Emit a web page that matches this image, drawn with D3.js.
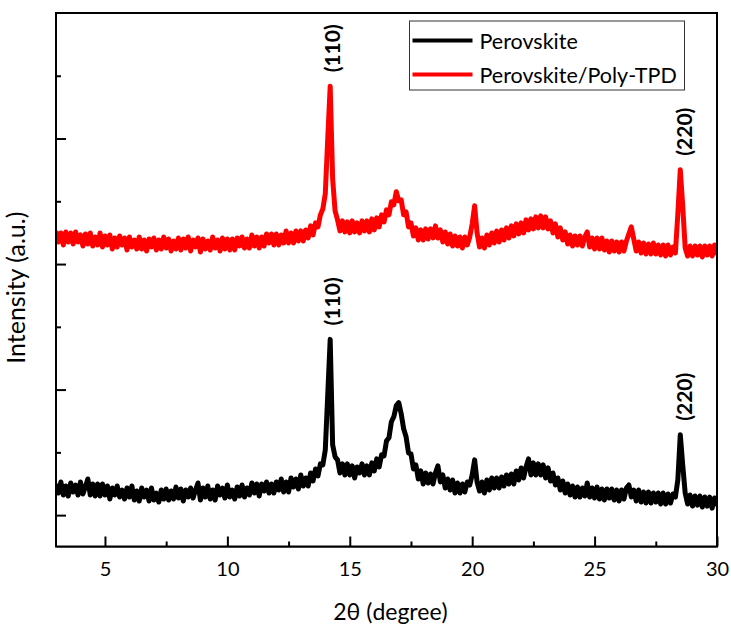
<!DOCTYPE html>
<html>
<head>
<meta charset="utf-8">
<script src="https://cdn.jsdelivr.net/npm/d3@7"></script>
<style>
  body { margin: 0; background: #fff; }
  svg { display: block; font-family: Lato, "Noto Sans", sans-serif; }
</style>
</head>
<body>
<div id="chart"></div>
<script>
// 2-theta sampling grid, 3.0 .. 30.0 in 0.1 degree steps
var twoTheta = d3.range(271).map(i => +(3 + i * 0.1).toFixed(1));

// Perovskite (black) intensity, a.u.
var perovskite = [
  248,176,264,160,232,152,256,184,240,160,
  264,168,224,288,160,248,152,248,152,248,
  160,232,128,216,160,232,144,200,128,216,
  144,232,120,192,112,216,144,200,112,216,
  120,176,104,200,128,208,120,192,128,224,
  136,208,112,200,144,216,136,200,256,120,
  216,144,232,128,200,120,232,160,216,136,
  240,144,200,128,224,152,240,144,216,160,
  256,176,248,152,248,192,264,176,248,176,
  264,200,288,184,264,184,296,224,288,208,
  320,232,296,232,336,272,368,312,408,400,
  520,960,1400,560,464,440,336,408,320,408,
  320,392,296,384,336,408,320,392,320,416,
  352,448,384,480,472,592,616,744,784,872,
  896,808,688,624,496,488,368,400,288,352,
  248,336,256,328,248,336,392,264,320,216,
  288,200,280,176,256,176,248,184,264,240,
  320,440,264,192,264,176,280,200,296,216,
  296,216,304,232,320,248,328,248,352,280,
  376,296,384,448,320,416,320,408,320,400,
  296,376,272,336,240,296,200,272,176,248,
  160,232,144,224,144,216,152,256,144,216,
  136,224,128,208,120,208,136,208,120,200,
  112,200,128,216,240,144,200,112,200,104,
  184,96,184,96,176,104,176,88,176,88,
  168,96,168,144,280,640,400,176,88,160,
  72,152,80,152,64,144,72,144,56,136,
  72
];

// Perovskite/Poly-TPD (red) intensity, a.u. (offset trace)
var polyTPD = [
  2264,2176,2248,2152,2256,2176,2248,2160,2256,2176,
  2232,2144,2240,2160,2248,2144,2216,2152,2248,2136,
  2224,2152,2232,2120,2208,2136,2224,2152,2208,2112,
  2216,2136,2192,2120,2216,2120,2192,2104,2200,2136,
  2208,2112,2192,2120,2216,2128,2200,2104,2184,2120,
  2208,2112,2200,2128,2216,2104,2192,2136,2208,2096,
  2200,2120,2184,2112,2216,2128,2192,2104,2208,2120,
  2200,2112,2200,2112,2208,2144,2216,2128,2200,2128,
  2232,2144,2216,2128,2216,2144,2240,2168,2240,2152,
  2240,2152,2232,2168,2264,2168,2248,2168,2264,2184,
  2264,2184,2272,2208,2304,2232,2328,2296,2392,2440,
  2560,3000,3416,2680,2424,2352,2264,2344,2256,2336,
  2248,2344,2256,2328,2248,2344,2264,2344,2256,2360,
  2272,2368,2296,2392,2336,2432,2392,2496,2472,2576,
  2504,2512,2392,2416,2296,2328,2224,2288,2192,2272,
  2192,2280,2200,2280,2208,2304,2208,2272,2176,2256,
  2160,2240,2144,2224,2144,2216,2128,2216,2152,2216,
  2320,2464,2248,2136,2208,2128,2232,2152,2248,2168,
  2264,2176,2272,2192,2288,2208,2304,2224,2320,2240,
  2328,2248,2352,2272,2360,2280,2376,2288,2384,2288,
  2376,2280,2344,2248,2320,2216,2288,2192,2256,2160,
  2232,2144,2224,2152,2224,2144,2216,2256,2136,2208,
  2120,2208,2120,2208,2112,2184,2096,2184,2104,2176,
  2096,2176,2104,2184,2240,2296,2200,2104,2176,2088,
  2168,2080,2160,2080,2168,2080,2152,2072,2152,2064,
  2152,2072,2136,2088,2400,2752,2464,2128,2064,2144,
  2064,2144,2072,2144,2056,2144,2072,2144,2064,2152,
  2072
];

var seriesNames = ["Perovskite", "Perovskite/Poly-TPD"];
var seriesColors = ["#000000", "#ff0000"];
var peakLabels = ["(110)", "(220)"];
var peakAngles = [14.17, 28.54];
var xTicks = [5, 10, 15, 20, 25, 30];
var xMinorTicks = [7.5, 12.5, 17.5, 22.5, 27.5];
var yTicks = [0, 1000, 2000, 3000];
var yMinorTicks = [500, 1500, 2500, 3500];

var svgWidth = 731;
var svgHeight = 629;

var margin = {
  top: 13,
  right: 14,
  bottom: 82.5,
  left: 56
};

var width = svgWidth - margin.left - margin.right;
var height = svgHeight - margin.top - margin.bottom;

var svg = d3
  .select("#chart")
  .append("svg")
  .attr("width", svgWidth)
  .attr("height", svgHeight);

var chartGroup = svg.append("g")
  .attr("transform", `translate(${margin.left}, ${margin.top})`);

var xScale = d3.scaleLinear().domain([3, 30]).range([0, width]);
var yScale = d3.scaleLinear().domain([-250, 4000]).range([height, 0]);

// clip so the traces stay inside the frame
chartGroup.append("clipPath").attr("id", "plotClip")
  .append("rect").attr("width", width).attr("height", height);

var allSeries = [perovskite, polyTPD];

var line = d3.line()
  .x(d => xScale(d[0]))
  .y(d => yScale(d[1]));

allSeries.forEach(function(values, s) {
  chartGroup.append("path")
    .datum(twoTheta.map((t, i) => [t, values[i]]))
    .attr("clip-path", "url(#plotClip)")
    .attr("fill", "none")
    .attr("stroke", seriesColors[s])
    .attr("stroke-width", 5)
    .attr("stroke-linejoin", "round")
    .attr("d", line);
});

// peak labels, rotated, just above each peak apex
allSeries.forEach(function(values, s) {
  peakAngles.forEach(function(angle, p) {
    var apex = d3.max(twoTheta.map((t, i) => Math.abs(t - angle) < 0.25 ? values[i] : -Infinity));
    var tx = xScale(angle) + 2;
    var ty = yScale(apex) - 38;
    chartGroup.append("text")
      .attr("transform", `translate(${tx}, ${ty}) rotate(-90)`)
      .attr("text-anchor", "middle")
      .attr("dominant-baseline", "central")
      .style("font-weight", "bold")
      .style("font-size", "21px")
      .text(peakLabels[p]);
  });
});

// x axis with inward ticks
var xAxis = chartGroup.append("g")
  .attr("transform", `translate(0, ${height})`)
  .call(d3.axisBottom(xScale).tickValues(xTicks).tickSizeInner(-10).tickSizeOuter(0).tickPadding(15));

chartGroup.append("g")
  .attr("transform", `translate(0, ${height})`)
  .call(d3.axisBottom(xScale).tickValues(xMinorTicks).tickSizeInner(-5).tickSizeOuter(0).tickFormat(""))
  .select(".domain").remove();

// y axis, ticks only
var yAxis = chartGroup.append("g")
  .call(d3.axisLeft(yScale).tickValues(yTicks).tickSizeInner(-10).tickSizeOuter(0).tickFormat(""));

chartGroup.append("g")
  .call(d3.axisLeft(yScale).tickValues(yMinorTicks).tickSizeInner(-5).tickSizeOuter(0).tickFormat(""))
  .select(".domain").remove();

chartGroup.selectAll(".tick line").attr("stroke-width", 2);
xAxis.selectAll("text")
  .style("font-family", "Lato, 'Noto Sans', sans-serif")
  .style("font-size", "20px")
  .attr("fill", "#000");

// frame
chartGroup.append("rect")
  .attr("width", width)
  .attr("height", height)
  .attr("fill", "none")
  .attr("stroke", "#000")
  .attr("stroke-width", 2);

// axis titles
chartGroup.append("text")
  .attr("x", width / 2 + 4)
  .attr("y", height + 73)
  .attr("text-anchor", "middle")
  .style("font-size", "23px")
  .text("2θ (degree)");

chartGroup.append("text")
  .attr("transform", `translate(${-31}, ${height / 2 + 8}) rotate(-90)`)
  .attr("text-anchor", "middle")
  .style("font-size", "25px")
  .text("Intensity (a.u.)");

// legend
var legend = chartGroup.append("g")
  .attr("transform", `translate(${409.5 - margin.left}, ${21 - margin.top})`);

legend.append("rect")
  .attr("width", 275)
  .attr("height", 69)
  .attr("fill", "#fff")
  .attr("stroke", "#333")
  .attr("stroke-width", 1);

seriesNames.forEach(function(name, s) {
  var row = legend.append("g").attr("transform", `translate(0, ${19.5 + s * 34})`);
  row.append("line")
    .attr("x1", 3).attr("x2", 63)
    .attr("stroke", seriesColors[s])
    .attr("stroke-width", 4);
  row.append("text")
    .attr("x", 70)
    .attr("dominant-baseline", "central")
    .style("font-size", "21.5px")
    .text(name);
});
</script>
</body>
</html>
